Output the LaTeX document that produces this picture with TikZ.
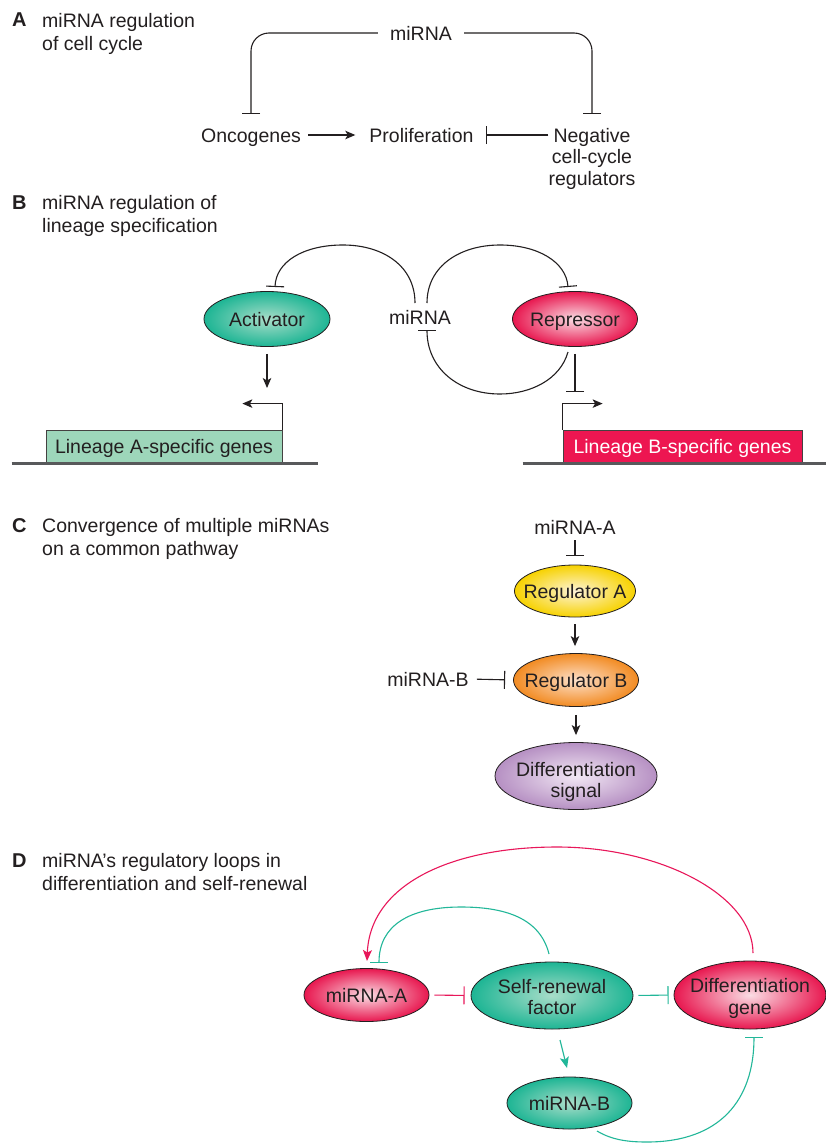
\documentclass[tikz,border=0pt]{standalone}
\usepackage{fontspec}
\setmainfont{Liberation Sans}
\usetikzlibrary{shapes.geometric,arrows.meta,calc}
\definecolor{ink}{HTML}{231F20}
\definecolor{tealout}{HTML}{1DB594}
\definecolor{tealin}{HTML}{A9DDC9}
\definecolor{redout}{HTML}{E8174F}
\definecolor{redin}{HTML}{FADDE4}
\definecolor{yelout}{HTML}{F7D200}
\definecolor{yelin}{HTML}{FDF4D8}
\definecolor{orout}{HTML}{F28B22}
\definecolor{orin}{HTML}{FDE0CA}
\definecolor{purout}{HTML}{B690C3}
\definecolor{purin}{HTML}{F2E8F4}
\definecolor{geneAfill}{HTML}{9DD6BA}
\definecolor{geneBfill}{HTML}{ED1651}
\definecolor{tealline}{HTML}{22B799}
\definecolor{redline}{HTML}{E8175A}
\definecolor{dnagray}{HTML}{58595B}
\tikzset{
  every node/.style={text=ink},
  lbl/.style={font=\fontsize{19.5}{21.5}\selectfont, inner sep=0pt, text height=14pt, text depth=0pt},
  multi/.style={font=\fontsize{19.5}{21.5}\selectfont, inner sep=0pt, align=center},
  title/.style={font=\fontsize{19.5}{23.5}\selectfont, inner sep=0pt, align=left, anchor=north west},
  panel/.style={font=\fontsize{20}{24}\selectfont\bfseries, inner sep=0pt, anchor=base west},
  blob/.style 2 args={ellipse, draw=ink, line width=0.8pt, inner sep=0pt, outer color=#1, inner color=#2},
  gene/.style={rectangle, draw=ink!85, line width=0.8pt, inner sep=0pt, minimum height=33pt,
    font=\fontsize{19.5}{21.5}\selectfont, text height=14pt, text depth=0pt},
  con/.style={draw=ink, line width=1.1pt},
  arr/.style={con, -{Stealth[length=10pt,width=8.5pt,inset=2.5pt]}},
  inh/.style={con, -{Bar[width=18pt,line width=1.1pt]}},
  dna/.style={draw=dnagray, line width=2.6pt},
  tinh/.style={draw=tealline, line width=1.1pt, -{Bar[width=18pt,line width=1.1pt]}},
  tarr/.style={draw=tealline, line width=1.1pt, -{Stealth[length=11pt,width=9pt,inset=2.5pt]}},
  rinh/.style={draw=redline, line width=1.1pt, -{Bar[width=18pt,line width=1.1pt]}},
  rarr/.style={draw=redline, line width=1.1pt, -{Stealth[length=11pt,width=9pt,inset=2.5pt]}},
}
\begin{document}
\begin{tikzpicture}[x=1pt,y=-1pt]
\useasboundingbox (0,0) rectangle (825,1143);
\fill[white] (0,0) rectangle (825,1143);

% ---------------- Panel A ----------------
\node[panel] (pA) at (12,27) {A};
\node[title] (tA) at (42,13) {miRNA regulation\\of cell cycle};
\node[lbl, anchor=base, inner xsep=12pt] (amir) at (421,40) {miRNA};
\node[lbl, anchor=base] (onco) at (251,142) {Oncogenes};
\node[lbl, anchor=base] (prol) at (421.5,142) {Proliferation};
\node[multi, anchor=north] (neg) at (592,128) {Negative\\cell-cycle\\regulators};
\draw[inh, rounded corners=18pt] (amir.west) -| ([yshift=14pt]onco.north);
\draw[inh, rounded corners=18pt] (amir.east) -| ([yshift=14pt]neg.north);
\draw[arr, shorten <=7pt, shorten >=14pt] (onco.east) -- (prol.west);
\draw[inh] (neg.west |- prol.east) -- ([xshift=12pt]prol.east);

% ---------------- Panel B ----------------
\node[panel] (pB) at (12,209) {B};
\node[title] (tB) at (42,195) {miRNA regulation of\\lineage specification};
\node[blob={tealout}{tealin}, minimum width=126pt, minimum height=55pt] (act) at (267,319) {};
\node[lbl] (actt) at (act.center) {Activator};
\node[blob={redout}{redin}, minimum width=125pt, minimum height=55pt] (rep) at (575,319) {};
\node[lbl] (rept) at (rep.center) {Repressor};
\node[lbl, anchor=base] (bmir) at (420,324) {miRNA};
\coordinate (b1s) at (415,303);
\coordinate (b1e) at (275,287);
\coordinate (b2s) at (427,303);
\coordinate (b2e) at (568,287);
\coordinate (b3s) at (568,352);
\coordinate (b3e) at (427,330);
\draw[inh] (b1s) .. controls (415,266) and (383,245) .. (343,245)
                 .. controls (303,245) and (276,262) .. (b1e);
\draw[inh] (b2s) .. controls (427,266) and (460,245) .. (500,245)
                 .. controls (538,245) and (566,262) .. (b2e);
\draw[inh] (b3s) .. controls (560,380) and (530,394) .. (500,394)
                 .. controls (458,394) and (427,368) .. (b3e);
\draw[arr, shorten <=7pt] (act.south) -- (act.south |- 0,388);
\draw[inh, shorten <=7pt] (rep.south) -- (rep.south |- 0,392);
\node[gene, fill=geneAfill, minimum width=236pt] (gA) at (164,446.5) {Lineage A-specific genes};
\node[gene, fill=geneBfill, minimum width=239pt, text=white] (gB) at (682.5,446.5) {Lineage B-specific genes};
\draw[arr] (gA.north east) -- ++(0,-26) -- ++(-40,0);
\draw[arr] (gB.north west) -- ++(0,-26) -- ++(40,0);
\draw[dna] ([xshift=-34pt]gA.south west) -- ([xshift=36pt]gA.south east);
\draw[dna] ([xshift=-40pt]gB.south west) -- ([xshift=30pt]gB.south east);

% ---------------- Panel C ----------------
\node[panel] (pC) at (12,532) {C};
\node[title] (tC) at (42,518) {Convergence of multiple miRNAs\\on a common pathway};
\node[lbl, anchor=base] (cmA) at (575,534) {miRNA-A};
\node[blob={yelout}{yelin}, minimum width=121pt, minimum height=52pt] (regA) at (575,591) {};
\node[lbl] (regAt) at (regA.center) {Regulator A};
\node[blob={orout}{orin}, minimum width=125pt, minimum height=53pt] (regB) at (576,680) {};
\node[lbl] (regBt) at (regB.center) {Regulator B};
\node[blob={purout}{purin}, minimum width=162pt, minimum height=67pt] (dsig) at (576,776) {};
\node[multi] (dsigt) at ([yshift=-6pt]dsig.center) {Differentiation\\signal};
\node[lbl, anchor=base] (cmB) at (428,686) {miRNA-B};
\draw[inh, shorten <=6pt, shorten >=9pt] (cmA.south) -- (cmA.south |- regA.north);
\draw[arr, shorten <=7pt, shorten >=7pt] (regA.south) -- (regA.south |- regB.north);
\draw[arr, shorten <=8pt, shorten >=7pt] (regB.south) -- (regB.south |- dsig.north);
\draw[inh, shorten <=8pt, shorten >=8pt] (cmB.east) -- (regB.west);

% ---------------- Panel D ----------------
\node[panel] (pD) at (12,867) {D};
\node[title] (tD) at (42,853) {miRNA’s regulatory loops in\\differentiation and self-renewal};
\node[blob={redout}{redin}, minimum width=125pt, minimum height=53pt] (dmA) at (366.5,995) {};
\node[lbl] (dmAt) at (dmA.center) {miRNA-A};
\node[blob={tealout}{tealin}, minimum width=162pt, minimum height=67pt] (self) at (552,995.5) {};
\node[multi] (selft) at ([yshift=-1.5pt]self.center) {Self-renewal\\factor};
\node[blob={redout}{redin}, minimum width=152pt, minimum height=68pt] (diff) at (750,995) {};
\node[multi] (difft) at ([yshift=-3.5pt]diff.center) {Differentiation\\gene};
\node[blob={tealout}{tealin}, minimum width=125pt, minimum height=52pt] (dmB) at (569.5,1103) {};
\node[lbl] (dmBt) at (dmB.center) {miRNA-B};
\draw[rinh, shorten <=5pt, shorten >=6pt] (dmA.east) -- (self.west);
\draw[tinh, shorten <=5pt, shorten >=5pt] (self.east) -- (diff.west);
\coordinate (d1s) at (560,1040);
\coordinate (d1e) at (567,1068);
\draw[tarr] (d1s) -- (d1e);
\coordinate (d2s) at (753,953);
\coordinate (d2e) at (367,961);
\draw[rarr] (d2s) .. controls (753,895) and (660,847) .. (557,847)
                  .. controls (450,847) and (370,885) .. (d2e);
\coordinate (d3s) at (549,954);
\coordinate (d3e) at (379,963);
\draw[tinh] (d3s) .. controls (540,918) and (505,907) .. (461,907)
                  .. controls (410,907) and (379,925) .. (d3e);
\coordinate (d4s) at (597,1131);
\coordinate (d4e) at (754,1037);
\draw[tinh] (d4s) .. controls (612,1140) and (628,1142) .. (647,1142)
                  .. controls (720,1142) and (754,1100) .. (d4e);
\end{tikzpicture}
\end{document}
